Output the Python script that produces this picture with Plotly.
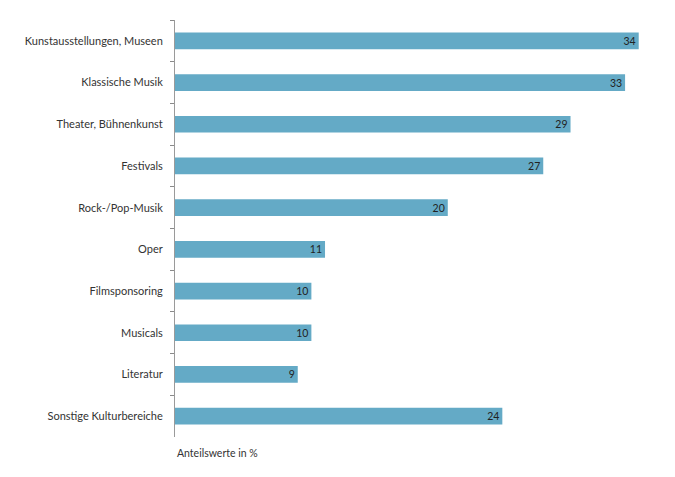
import plotly.graph_objects as go

categories = ["Kunstausstellungen, Museen", "Klassische Musik", "Theater, Bühnenkunst",
              "Festivals", "Rock-/Pop-Musik", "Oper", "Filmsponsoring", "Musicals",
              "Literatur", "Sonstige Kulturbereiche"]
values = [34, 33, 29, 27, 20, 11, 10, 10, 9, 24]

fig = go.Figure(go.Bar(
    x=values,
    y=categories,
    orientation="h",
    width=0.4,
    marker=dict(color="#64AAC6", line=dict(width=0)),
    text=[str(v) for v in values],
    textposition="inside",
    insidetextanchor="end",
    textangle=0,
    constraintext="none",
    textfont=dict(family="Lato", size=10.5, color="#222222"),
))

# page body has an 8px margin, so the figure is shifted by 8px
fig.update_layout(
    width=667, height=469,
    margin=dict(l=167, r=9, t=12, b=40, autoexpand=False),
    paper_bgcolor="white", plot_bgcolor="white",
    showlegend=False,
    font=dict(family="Lato", size=11, color="#333333"),
    xaxis=dict(range=[0, 36], visible=False, automargin=False),
    yaxis=dict(
        autorange="reversed", automargin=False,
        showline=True, linecolor="#9a9a9a", linewidth=1,
        ticks="outside", ticklen=4, tickcolor="#8a8a8a", tickwidth=1,
        tickson="boundaries", ticklabelstandoff=9,
        showgrid=False,
    ),
    annotations=[dict(text="Anteilswerte in %", xref="paper", yref="paper",
                      x=0, y=0, yshift=-8, xanchor="left", yanchor="top", showarrow=False,
                      font=dict(size=10.5, color="#333333"))],
)

fig.write_html("out.html")
